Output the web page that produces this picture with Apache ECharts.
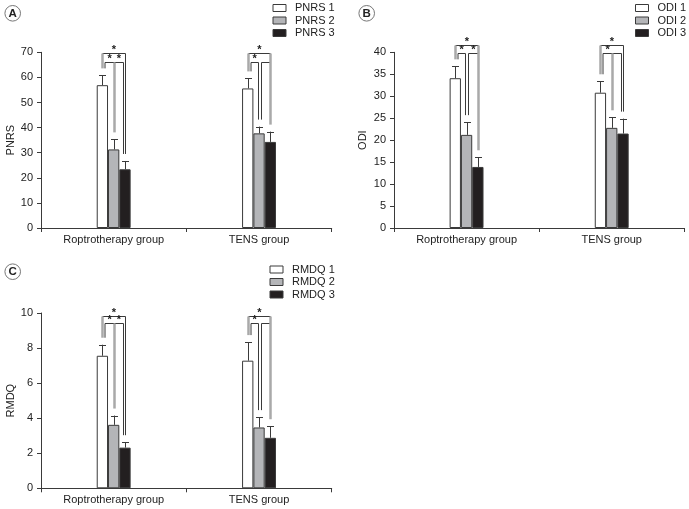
<!DOCTYPE html>
<html><head><meta charset="utf-8">
<script src="https://cdn.jsdelivr.net/npm/echarts@6/dist/echarts.min.js"></script>
<style>html,body{margin:0;padding:0;background:#fff}#c{width:689px;height:509px}</style>
</head><body><div id="c"></div>
<script>
// ---------- data ----------
const categories = ['Roptrotherapy group', 'TENS group'];

// Panel A: PNRS (mean, sd)
const pnrs1 = [56.9, 55.6], pnrs1Sd = [3.9, 4.0];
const pnrs2 = [31.3, 37.7], pnrs2Sd = [4.0, 2.7];
const pnrs3 = [23.4, 34.3], pnrs3Sd = [3.3, 4.1];
// Panel B: ODI
const odi1 = [34.1, 30.8], odi1Sd = [2.7, 2.6];
const odi2 = [21.2, 22.8], odi2Sd = [2.9, 2.4];
const odi3 = [13.9, 21.5], odi3Sd = [2.2, 3.4];
// Panel C: RMDQ
const rmdq1 = [7.56, 7.28], rmdq1Sd = [0.63, 1.06];
const rmdq2 = [3.62, 3.47], rmdq2Sd = [0.53, 0.59];
const rmdq3 = [2.32, 2.88], rmdq3Sd = [0.31, 0.66];

// significance brackets per panel: [outer level, inner level]
const pnrsBracket = [69.6, 66.3];
const odiBracket = [41.6, 39.9];
const rmdqBracket = [9.83, 9.41];
// which bar carries the single shared leg, per group; whether 2-3 comparison is starred
const pnrsShared = [1, 2], odiShared = [2, 1], rmdqShared = [1, 2];
const star23 = [true, false];

const pnrsTicks = {min: 0, max: 70, interval: 10};
const odiTicks = {min: 0, max: 40, interval: 5};
const rmdqTicks = {min: 0, max: 10, interval: 2};

// ---------- style ----------
const FONT = '"Liberation Sans",Arial,sans-serif';
const FS = 11;
const BAR_W = 11.3;
const FILLS = ['#ffffff', '#b4b5b8', '#231f20'];
const INK = '#3a3a3a';
const GRAY = '#a9a9a9';

const grids = [
  {left: 41, top: 52.3, width: 290.7, height: 175.7},
  {left: 394, top: 52.3, width: 290.3, height: 175.7},
  {left: 41, top: 313, width: 290.7, height: 175.3}
];

const panels = [
  {name: 'PNRS', labels: ['PNRS 1','PNRS 2','PNRS 3'], means: [pnrs1,pnrs2,pnrs3], sds: [pnrs1Sd,pnrs2Sd,pnrs3Sd], br: pnrsBracket, shared: pnrsShared, ticks: pnrsTicks, nameGap: 20,
   legend: {left: 272.5, top: 2}, letter: 'A', circ: [12.7, 13.3]},
  {name: 'ODI', labels: ['ODI 1','ODI 2','ODI 3'], means: [odi1,odi2,odi3], sds: [odi1Sd,odi2Sd,odi3Sd], br: odiBracket, shared: odiShared, ticks: odiTicks, nameGap: 26,
   legend: {left: 635, top: 2}, letter: 'B', circ: [366.7, 13.3]},
  {name: 'RMDQ', labels: ['RMDQ 1','RMDQ 2','RMDQ 3'], means: [rmdq1,rmdq2,rmdq3], sds: [rmdq1Sd,rmdq2Sd,rmdq3Sd], br: rmdqBracket, shared: rmdqShared, ticks: rmdqTicks, nameGap: 20,
   legend: {left: 269.5, top: 263.5}, letter: 'C', circ: [12.7, 271.7]}
];

const xAxes = [], yAxes = [], series = [], legends = [], graphics = [];

panels.forEach((p, pi) => {
  xAxes.push({
    gridIndex: pi, type: 'category', data: categories,
    axisLine: {lineStyle: {color: INK, width: 1}},
    axisTick: {show: true, length: 4, lineStyle: {color: INK}},
    axisLabel: {color: '#222', fontFamily: FONT, fontSize: FS, margin: 6}
  });
  yAxes.push({
    gridIndex: pi, type: 'value', min: p.ticks.min, max: p.ticks.max, interval: p.ticks.interval,
    name: p.name, nameLocation: 'middle', nameGap: p.nameGap,
    nameTextStyle: {color: '#222', fontFamily: FONT, fontSize: FS},
    axisLine: {show: true, lineStyle: {color: INK, width: 1}},
    axisTick: {show: true, length: 4, lineStyle: {color: INK}},
    axisLabel: {color: '#222', fontFamily: FONT, fontSize: FS, margin: 8},
    splitLine: {show: false}
  });
  const means = p.means, sds = p.sds;
  p.labels.forEach((lab, si) => {
    series.push({
      type: 'bar', name: lab, xAxisIndex: pi, yAxisIndex: pi,
      data: means[si], barWidth: BAR_W, barGap: '0%',
      itemStyle: {color: FILLS[si], borderColor: INK, borderWidth: 1},
      emphasis: {disabled: true}, z: 2
    });
    // error bars
    series.push({
      type: 'custom', xAxisIndex: pi, yAxisIndex: pi, z: 3, silent: true,
      data: means[si].map((m, ci) => [ci, m, m + sds[si][ci]]),
      renderItem: (params, api) => {
        const ci = api.value(0);
        const base = api.coord([ci, api.value(1)]);
        const top = api.coord([ci, api.value(2)]);
        const x = Math.round(base[0] + (si - 1) * BAR_W) + 0.5;
        const cap = 3.5;
        return {type: 'group', children: [
          {type: 'line', shape: {x1: x, y1: base[1], x2: x, y2: top[1]}, style: {stroke: INK, lineWidth: 1}},
          {type: 'line', shape: {x1: x - cap, y1: Math.round(top[1]) + 0.5, x2: x + cap, y2: Math.round(top[1]) + 0.5}, style: {stroke: INK, lineWidth: 1}}
        ]};
      }
    });
  });
  // significance brackets
  series.push({
    type: 'custom', xAxisIndex: pi, yAxisIndex: pi, z: 4, silent: true, clip: false,
    data: categories.map((c, ci) => [ci, p.br[0], p.br[1]]),
    renderItem: (params, api) => {
      const ci = api.value(0);
      const cx = api.coord([ci, 0])[0];
      const yT1 = Math.round(api.coord([ci, api.value(1)])[1]) + 0.5;
      const yT2 = Math.round(api.coord([ci, api.value(2)])[1]) + 0.5;
      const ends = [0, 1, 2].map(si => api.coord([ci, means[si][ci] + sds[si][ci]])[1] - 7);
      const c = [0, 1, 2].map(si => cx + (si - 1) * BAR_W);
      const sh = p.shared[ci];
      const kids = [];
      const ln = (x1, y1, x2, y2, gray) => kids.push({type: 'line',
        shape: {x1: x1, y1: y1, x2: x2, y2: y2},
        style: {stroke: gray ? GRAY : INK, lineWidth: gray ? 2.5 : 1}});
      const star = (x, y) => kids.push({type: 'text', style: {text: '*', x: x, y: y + 1.5,
        align: 'center', verticalAlign: 'bottom', fontSize: 11, fontWeight: 'bold', fontFamily: 'Liberation Sans', fill: '#222'}});
      // outer bracket 1-3
      const oL = Math.round(c[0]) + 0.5, oR = Math.round(c[2]) + 0.5;
      const iL = oL + 2.5;
      ln(oL, yT1, oR, yT1, false);
      ln(oL, yT1, oL, ends[0], true);
      star((oL + oR) / 2, yT1);
      // inner 1-2
      let r12, l23, r23;
      if (sh === 1) { r12 = Math.round(c[1]) + 0.5; l23 = r12; r23 = Math.round(c[2] - 2) + 0.5; }
      else { r12 = Math.round(c[1] - 1.2) + 0.5; l23 = Math.round(c[1] + 1.5) + 0.5; r23 = oR; }
      ln(iL, yT2, r12, yT2, false);
      ln(iL, yT2, iL, ends[0], false);
      star((iL + r12) / 2, yT2);
      // inner 2-3
      ln(l23, yT2, r23, yT2, false);
      if (star23[ci]) star((l23 + r23) / 2, yT2);
      if (sh === 1) {
        ln(r12, yT2, r12, ends[1], true);
        ln(r23, yT2, r23, ends[2], false);
        ln(oR, yT1, oR, ends[2], false);
      } else {
        ln(r12, yT2, r12, ends[1], false);
        ln(l23, yT2, l23, ends[1], false);
        ln(oR, yT1, oR, ends[2], true);
      }
      return {type: 'group', children: kids};
    }
  });
  legends.push({
    data: p.labels, orient: 'vertical', left: p.legend.left, top: p.legend.top, padding: 0,
    itemWidth: 13, itemHeight: 7, itemGap: 0.5, icon: 'rect', selectedMode: false,
    itemStyle: {borderWidth: 1},
    textStyle: {color: '#222', fontFamily: FONT, fontSize: 11, lineHeight: 12, padding: [0, 0, 0, 4]}
  });
  graphics.push({type: 'circle', shape: {cx: p.circ[0], cy: p.circ[1], r: 7.8}, style: {fill: '#fff', stroke: '#777', lineWidth: 1}});
  graphics.push({type: 'text', x: p.circ[0], y: p.circ[1] + 0.5, style: {text: p.letter, align: 'center', verticalAlign: 'middle', fontSize: 11.5, fontWeight: 'bold', fontFamily: 'Liberation Sans', fill: '#222'}});
});

const chart = echarts.init(document.getElementById('c'), null, {renderer: 'canvas'});
chart.setOption({
  animation: false, backgroundColor: '#fff',
  grid: grids, xAxis: xAxes, yAxis: yAxes, series: series, legend: legends, graphic: graphics
});
</script></body></html>
